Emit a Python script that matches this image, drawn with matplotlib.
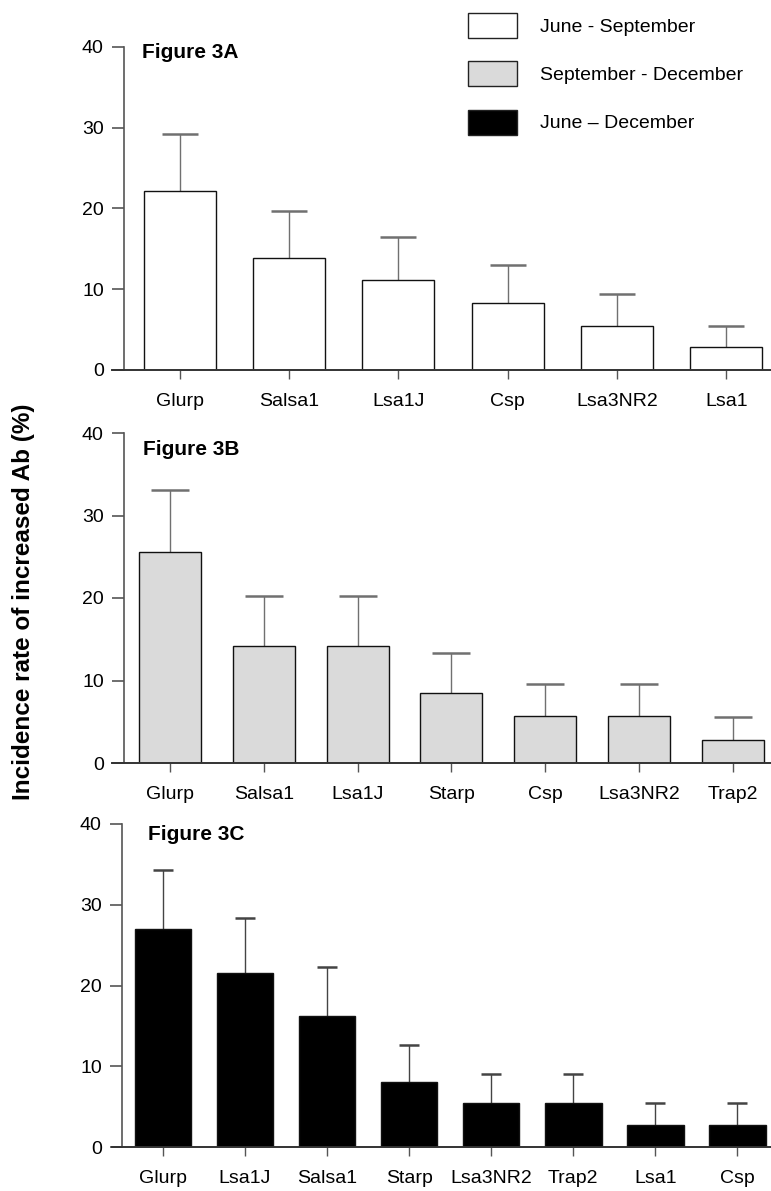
import matplotlib.pyplot as plt
from matplotlib.patches import Patch

plt.rcParams['font.family'] = ['Liberation Sans', 'DejaVu Sans']

# Figure 3A: June - September
labels_a = ['Glurp', 'Salsa1', 'Lsa1J', 'Csp', 'Lsa3NR2', 'Lsa1']
vals_a = [22.1, 13.8, 11.1, 8.3, 5.5, 2.8]
tops_a = [29.2, 19.7, 16.4, 13.0, 9.4, 5.5]

# Figure 3B: September - December
labels_b = ['Glurp', 'Salsa1', 'Lsa1J', 'Starp', 'Csp', 'Lsa3NR2', 'Trap2']
vals_b = [25.6, 14.2, 14.2, 8.5, 5.7, 5.7, 2.8]
tops_b = [33.1, 20.2, 20.2, 13.3, 9.6, 9.6, 5.6]

# Figure 3C: June - December
labels_c = ['Glurp', 'Lsa1J', 'Salsa1', 'Starp', 'Lsa3NR2', 'Trap2', 'Lsa1', 'Csp']
vals_c = [27.0, 21.6, 16.2, 8.1, 5.4, 5.4, 2.7, 2.7]
tops_c = [34.3, 28.4, 22.3, 12.6, 9.1, 9.1, 5.4, 5.4]

series_names = ['June - September', 'September - December', 'June \u2013 December']
fills = ['white', '#dadada', 'black']

W, H = 771, 1191
fig = plt.figure(figsize=(W / 100, H / 100), dpi=100)

# (labels, values, error tops, fill, title, axes px top, axes px bottom, bar width,
#  capsize, spine offset px, title pos, error line colour)
panels = [
    (labels_a, vals_a, tops_a, fills[0], 'Figure 3A', 46.7, 370, 0.66, 13, 12, (30, 1.012), '#707070'),
    (labels_b, vals_b, tops_b, fills[1], 'Figure 3B', 433, 763, 0.66, 14, 12, (31, 0.98), '#707070'),
    (labels_c, vals_c, tops_c, fills[2], 'Figure 3C', 824, 1147, 0.69, 7.5, 10, (36, 0.998), '#444444'),
]

ax_left = 112
for labels, vals, tops, fill, title, top_px, bot_px, bw, caps, spine_px, tpos, ecol in panels:
    n = len(labels)
    ax = fig.add_axes([ax_left / W, 1 - bot_px / H, (W - ax_left) / W, (bot_px - top_px) / H])
    x = list(range(n))
    errs = [t - v for t, v in zip(tops, vals)]
    eb = ax.errorbar(x, vals, yerr=[[0] * n, errs], fmt='none', ecolor=ecol,
                     elinewidth=1.0, capsize=caps, capthick=1.8, zorder=1)
    caplines = eb[1]
    caplines[0].set_visible(False)   # only the upper whisker is shown
    caplines[1].set_color('#1a1a1a')
    ax.bar(x, vals, width=bw, color=fill, edgecolor='#111111', linewidth=1.0, zorder=2)

    ax.set_xlim(-0.62, n - 0.59)
    ax.set_ylim(0, 40)
    ax.set_yticks([0, 10, 20, 30, 40])
    ax.set_xticks(x)
    ax.set_xticklabels(labels)

    for s in ['top', 'right']:
        ax.spines[s].set_visible(False)
    ax.spines['left'].set_position(('axes', spine_px / (W - ax_left)))
    ax.spines['left'].set_color('#555555')
    ax.spines['bottom'].set_color('#333333')
    ax.spines['left'].set_linewidth(1.2)
    ax.spines['bottom'].set_linewidth(1.4)
    ax.tick_params(axis='y', length=8.5, width=1.2, color='#555555', pad=6, labelsize=14)
    ax.tick_params(axis='x', length=6.5, width=1.0, color='#555555', pad=10, labelsize=14)

    ax.text(tpos[0] / (W - ax_left), tpos[1], title, transform=ax.transAxes,
            fontsize=15, fontweight='bold', ha='left', va='top')

fig.text(24 / W, 1 - 602 / H, 'Incidence rate of increased Ab (%)', rotation=90,
         ha='center', va='center', fontsize=17.5, fontweight='bold')

handles = [Patch(facecolor=c, edgecolor='#222222', linewidth=1.0) for c in fills]
fig.legend(handles, series_names, loc='upper left', bbox_to_anchor=(468 / W, 1 - 13 / H),
           frameon=False, fontsize=14, handlelength=2.5, handleheight=1.6,
           handletextpad=1.2, labelspacing=1.2, borderpad=0, borderaxespad=0)

fig.savefig('out.png', dpi=100)
